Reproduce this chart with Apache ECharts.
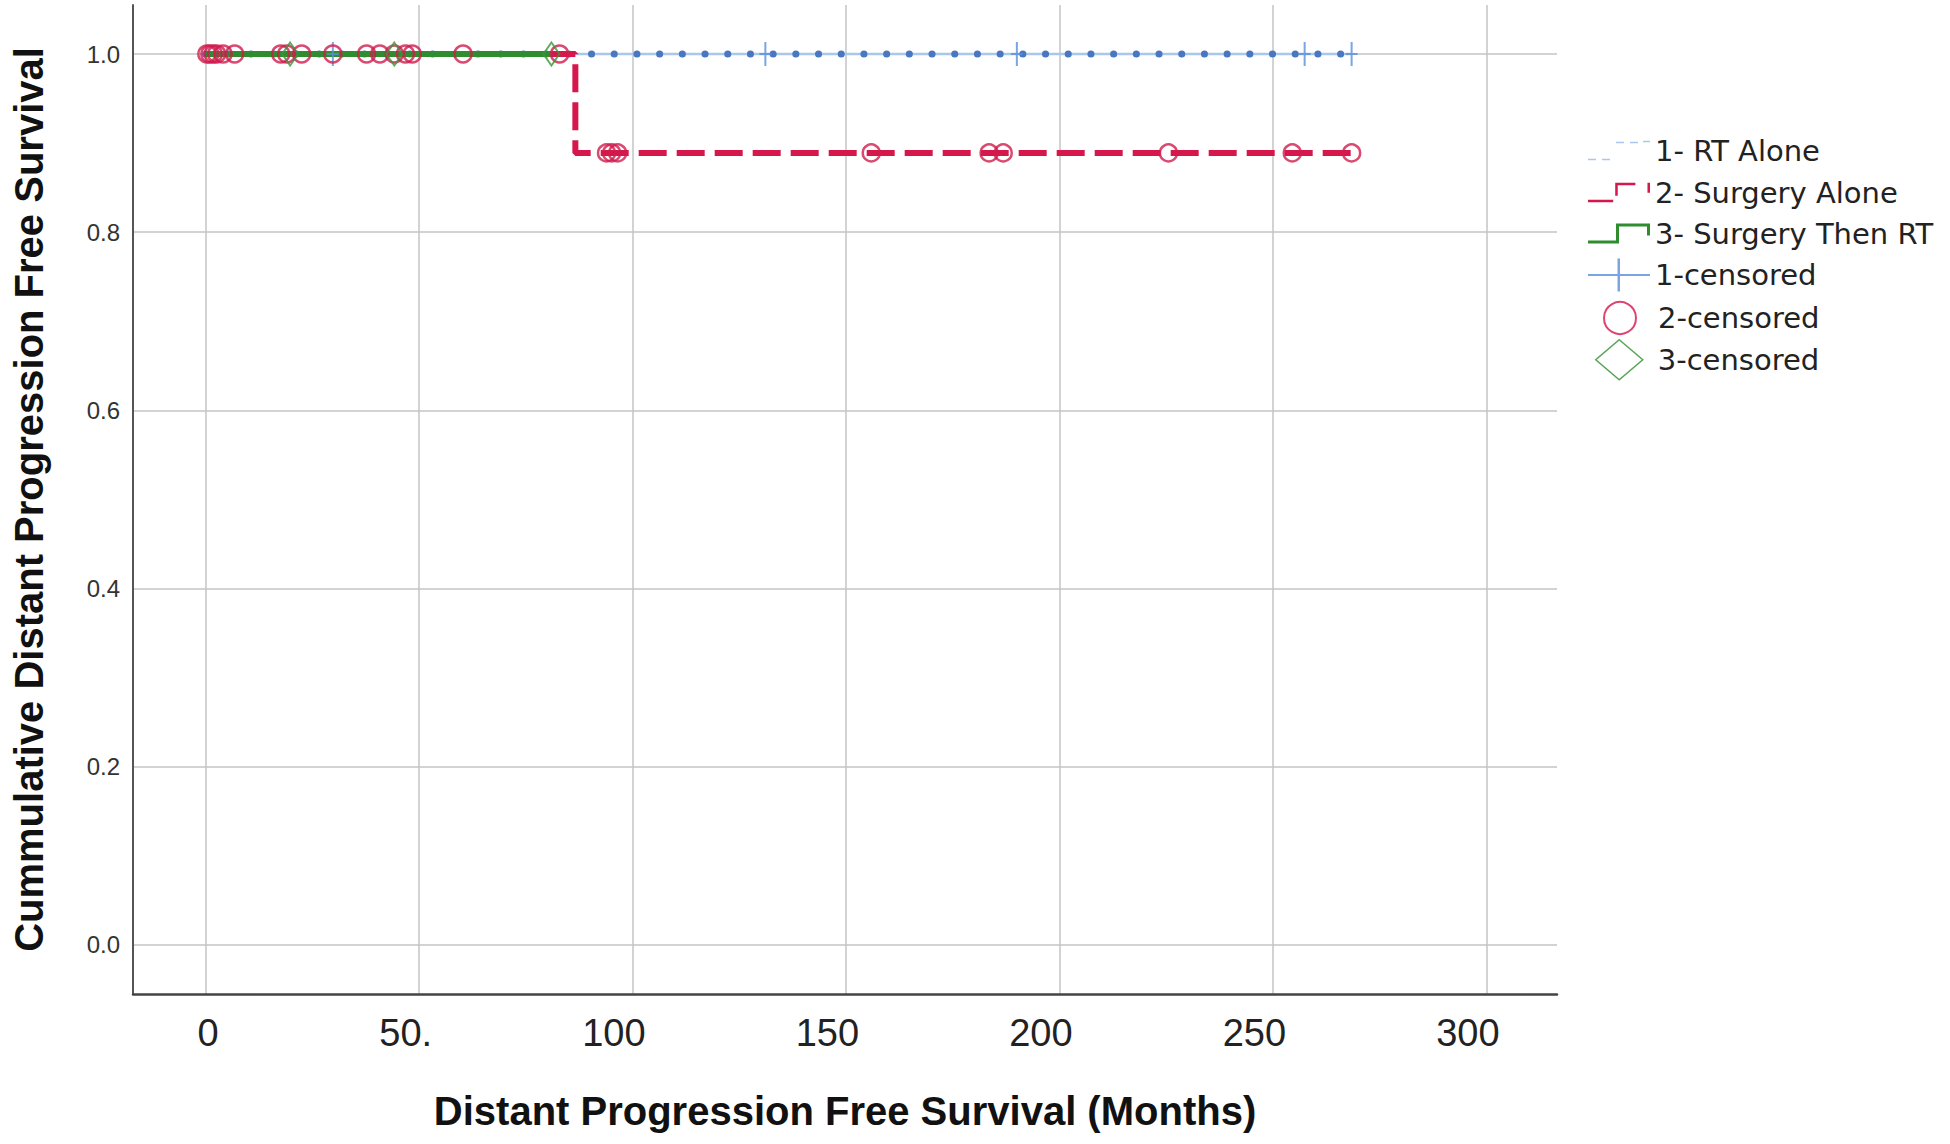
<!DOCTYPE html>
<html>
<head>
<meta charset="utf-8">
<title>Distant Progression Free Survival</title>
<script src="https://cdn.jsdelivr.net/npm/echarts@6/dist/echarts.min.js"></script>
<style>
  html, body { margin: 0; padding: 0; background: #fff; }
  #chart { width: 1950px; height: 1144px; }
</style>
</head>
<body>
<div id="chart"></div>
<script>
// axis ticks
const xTickValues = [0, 50, 100, 150, 200, 250, 300]
const xTickLabels = ['0', '50.', '100', '150', '200', '250', '300']
const yTickValues = [0, 0.2, 0.4, 0.6, 0.8, 1.0]
const yTickLabels = ['0.0', '0.2', '0.4', '0.6', '0.8', '1.0']

const groupNames = ['1- RT Alone', '2- Surgery Alone', '3- Surgery Then RT']
const censorNames = ['1-censored', '2-censored', '3-censored']

/* survival steps (months, cumulative survival) */
const rtTimes = [0, 268.4]
const rtSurv = [1, 1]
const surgTimes = [0, 86.6, 268.4]
const surgSurv = [1, 0.889, 0.889]
const surgRtTimes = [0, 81.0]
const surgRtSurv = [1, 1]

/* censored cases */
const rtCensTimes = [29.8, 131.1, 190.0, 257.4, 268.4]
const rtCensSurv = [1, 1, 1, 1, 1]
const surgCensTimes = [0.3, 1.0, 1.8, 2.6, 4.1, 6.8, 17.6, 19.0, 22.5, 29.8, 37.7, 40.8, 44.2, 46.8, 48.4, 60.3, 82.9,
  93.9, 95.1, 96.5, 155.9, 183.5, 186.8, 225.5, 254.5, 268.4]
const surgCensSurv = [1, 1, 1, 1, 1, 1, 1, 1, 1, 1, 1, 1, 1, 1, 1, 1, 1,
  0.889, 0.889, 0.889, 0.889, 0.889, 0.889, 0.889, 0.889, 0.889]
const surgRtCensTimes = [19.8, 44.2, 81.0]
const surgRtCensSurv = [1, 1, 1]

const zip = (xs, ys) => xs.map((x, i) => [x, ys[i]])

const BLUE = '#4a78c0'
const BLUE_LIGHT = '#a9c6ec'
const RED = '#d5174c'
const GREEN = '#2f8d2f'

const sans = "'Liberation Sans', Arial, sans-serif"

const plusPath = 'path://M5,0H7V11H12V13H7V24H5V13H0V11H5Z'

/* legend rows: one legend block per row so each icon can have its own size */
const legendRows = [
  { name: groupNames[0], w: 62, h: 20, left: 1588, top: 136,
    icon: 'path://M0,18H8V19.5H0Z M14,18H22V19.5H14Z M28,1H36V2.5H28Z M42,1H50V2.5H42Z M55,0H62V1.5H55Z' },
  { name: groupNames[1], w: 62, h: 20, left: 1588, top: 178,
    icon: 'path://M0,17H25V19.5H0Z M27,1H29.5V13H27Z M27,0H47V2.5H27Z M59,0H61.5V10H59Z' },
  { name: groupNames[2], w: 62, h: 20, left: 1588, top: 219,
    icon: 'path://M0,17H28V20H0Z M28,0H31V20H28Z M31,0H60V3H31Z M59,0H62V12H59Z' },
  { name: censorNames[0], w: 62, h: 33, left: 1588, top: 258.5,
    icon: 'path://M0,15.5H29.5V0H32V15.5H62V17.5H32V33H29.5V17.5H0Z' },
  { name: censorNames[1], w: 32, h: 32, left: 1603, top: 301, icon: 'circle', pad: 17,
    style: { color: 'rgba(0,0,0,0)', borderColor: RED, borderWidth: 2 } },
  { name: censorNames[2], w: 47, h: 40, left: 1595, top: 339, icon: 'diamond', pad: 10,
    style: { color: 'rgba(0,0,0,0)', borderColor: GREEN, borderWidth: 1.5 } }
]

const chart = echarts.init(document.getElementById('chart'), null, { renderer: 'svg' })

const option = {
  animation: false,
  backgroundColor: '#fff',
  grid: { left: 133, right: 393, top: 5, bottom: 150, containLabel: false, outerBoundsMode: 'none' },
  legend: legendRows.map(r => ({
    data: [{ name: r.name, icon: r.icon }],
    orient: 'vertical',
    left: r.left,
    top: r.top,
    itemWidth: r.w,
    itemHeight: r.h,
    itemGap: 0,
    padding: 0,
    selectedMode: false,
    itemStyle: r.style || { borderWidth: 0 },
    lineStyle: { width: 0 },
    textStyle: {
      fontFamily: "'DejaVu Sans', sans-serif",
      fontSize: 29,
      color: '#222',
      padding: [0, 0, 0, r.pad || 0]
    }
  })),
  xAxis: {
    type: 'value',
    min: -17,
    max: 316.5,
    name: 'Distant Progression Free Survival (Months)',
    nameLocation: 'middle',
    nameGap: 97,
    nameTextStyle: { fontFamily: sans, fontWeight: 'bold', fontSize: 40, color: '#111' },
    axisLine: { show: true, onZero: false, lineStyle: { color: '#444', width: 2.5 } },
    axisTick: { show: false, customValues: xTickValues },
    axisLabel: {
      customValues: xTickValues,
      formatter: v => xTickLabels[xTickValues.indexOf(v)],
      fontFamily: sans,
      fontSize: 38,
      color: '#222',
      align: 'right',
      padding: [0, -13, 0, 0],
      margin: 20
    },
    splitLine: { show: true, lineStyle: { color: '#c4c4c4', width: 1.5 } }
  },
  yAxis: {
    type: 'value',
    min: -0.055,
    max: 1.055,
    name: 'Cummulative Distant Progression Free Survival',
    nameLocation: 'middle',
    nameRotate: 90,
    nameGap: 84,
    nameTextStyle: { fontFamily: sans, fontWeight: 'bold', fontSize: 40, color: '#111' },
    axisLine: { show: true, onZero: false, lineStyle: { color: '#555', width: 2 } },
    axisTick: { show: false, customValues: yTickValues },
    axisLabel: {
      customValues: yTickValues,
      formatter: v => yTickLabels[yTickValues.indexOf(v)],
      fontFamily: sans,
      fontSize: 24,
      color: '#333',
      margin: 13
    },
    splitLine: { show: true, lineStyle: { color: '#c4c4c4', width: 1.5 } }
  },
  series: [
    {
      name: groupNames[0],
      type: 'line',
      step: 'end',
      showSymbol: false,
      color: BLUE_LIGHT,
      lineStyle: { color: BLUE_LIGHT, width: 2.5 },
      data: zip(rtTimes, rtSurv),
      z: 2
    },
    {
      name: groupNames[0],
      type: 'line',
      step: 'end',
      showSymbol: false,
      color: BLUE,
      lineStyle: { color: BLUE, width: 7, type: [0.1, 22.6], cap: 'round' },
      data: zip(rtTimes, rtSurv),
      z: 2
    },
    {
      name: groupNames[1],
      type: 'line',
      step: 'end',
      showSymbol: false,
      color: RED,
      lineStyle: { color: RED, width: 6, type: [28, 10] },
      data: zip(surgTimes, surgSurv),
      z: 3
    },
    {
      name: groupNames[2],
      type: 'line',
      step: 'end',
      showSymbol: false,
      color: GREEN,
      lineStyle: { color: GREEN, width: 6 },
      data: zip(surgRtTimes, surgRtSurv),
      z: 4
    },
    {
      name: censorNames[0],
      type: 'scatter',
      symbol: plusPath,
      symbolSize: [12, 24],
      color: '#5a8fd8',
      itemStyle: { color: '#5a8fd8' },
      data: zip(rtCensTimes, rtCensSurv),
      z: 5
    },
    {
      name: censorNames[1],
      type: 'scatter',
      symbol: 'circle',
      symbolSize: 17,
      color: RED,
      itemStyle: { color: 'rgba(0,0,0,0)', borderColor: '#cf1d4d', borderWidth: 2.5 },
      data: zip(surgCensTimes, surgCensSurv),
      z: 6
    },
    {
      name: censorNames[2],
      type: 'scatter',
      symbol: 'diamond',
      symbolSize: [16, 23],
      color: GREEN,
      itemStyle: { color: 'rgba(0,0,0,0)', borderColor: '#3a963a', borderWidth: 2 },
      data: zip(surgRtCensTimes, surgRtCensSurv),
      z: 7
    }
  ]
}

chart.setOption(option)
</script>
</body>
</html>
